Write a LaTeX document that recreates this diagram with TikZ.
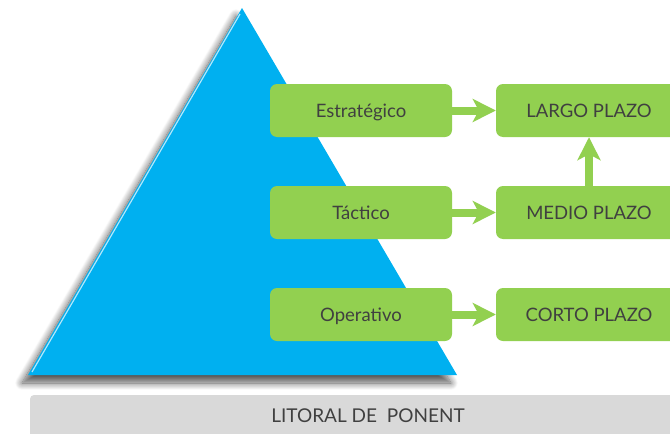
\documentclass[tikz,border=0pt]{standalone}
\usepackage{fontspec}
\setmainfont{Lato}
\usetikzlibrary{arrows.meta,shadows.blur}
\definecolor{pyrblue}{HTML}{00B0F0}
\definecolor{boxgreen}{HTML}{92D050}
\definecolor{txtgray}{HTML}{404040}
\definecolor{bandgray}{HTML}{D9D9D9}
\tikzset{
  basebox/.style={fill=boxgreen, rounded corners=7pt, minimum height=53pt, inner sep=0pt, text=txtgray, text height=13pt, text depth=0pt, font=\fontsize{18.5}{20}\selectfont},
  levelbox/.style={basebox, minimum width=182pt},
  termbox/.style={basebox, minimum width=186pt},
  fatarrow/.style={draw=boxgreen, line width=8pt, -{Stealth[length=23pt,width=23pt,inset=6pt]}, shorten >=0pt}
}
\begin{document}
\begin{tikzpicture}[x=1pt,y=-1pt]
\useasboundingbox (0,0) rectangle (670,434);
% bottom band
\fill[bandgray, rounded corners=4pt] (30,395) rectangle (690,440);
\node[text=txtgray, font=\fontsize{19}{21}\selectfont, text height=13.5pt, text depth=0pt] (band) at (368,416) {LITORAL DE\ \ PONENT};
% pyramid
\fill[pyrblue, blur shadow={shadow xshift=-6pt, shadow yshift=-8pt, shadow blur steps=12, shadow blur radius=7pt, shadow opacity=65}] (242,8) -- (457,375) -- (28,375) -- cycle;
\draw[white!70!pyrblue, line width=1.2pt] (240,14) -- (32,372);
% boxes
\node[levelbox] (est) at (361,110.5) {Estratégico};
\node[levelbox] (tac) at (361,212.5) {Táctico};
\node[levelbox] (ope) at (361,314.5) {Operativo};
\node[termbox] (lar) at (589,110.5) {LARGO PLAZO};
\node[termbox] (med) at (589,212.5) {MEDIO PLAZO};
\node[termbox] (cor) at (589,314.5) {CORTO PLAZO};
% arrows
\draw[fatarrow] (est.east) -- (lar.west);
\draw[fatarrow] (tac.east) -- (med.west);
\draw[fatarrow] (ope.east) -- (cor.west);
\draw[fatarrow] (med.north) -- (lar.south);
\end{tikzpicture}
\end{document}
